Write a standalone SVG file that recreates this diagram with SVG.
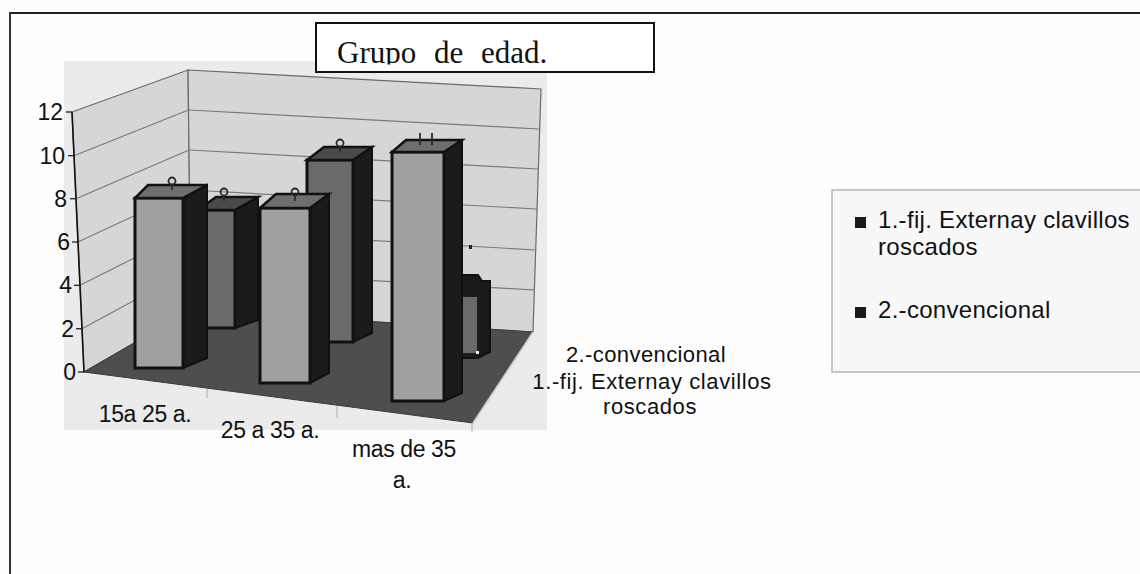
<svg xmlns="http://www.w3.org/2000/svg" width="1140" height="574" viewBox="0 0 1140 574">
<style>
.sans{font-family:"Liberation Sans",Arial,sans-serif;fill:#111;}
.ylab{font-size:23px;text-anchor:end;}
.cat{font-size:23px;text-anchor:middle;letter-spacing:-0.4px;}
.ser{font-size:22px;text-anchor:middle;}
.leg{font-size:24px;letter-spacing:0.3px;}
.grid{stroke:#7a7a7a;stroke-width:1.2;fill:none;}
.wall{fill:#d6d6d6;stroke:#6a6a6a;stroke-width:1.2;}
.f1{fill:#a0a0a0;stroke:#111;stroke-width:3;}
.f2{fill:#6a6a6a;stroke:#111;stroke-width:3;}
.side{fill:#1b1b1b;stroke:#111;stroke-width:2;}
.t1{fill:#6e6e6e;stroke:#111;stroke-width:2.5;}
.t2{fill:#4a4a4a;stroke:#111;stroke-width:2.5;}
.loop{fill:none;stroke:#2a2a2a;stroke-width:1.8;}
.tick{stroke:#222;stroke-width:1.3;}
.ctick{stroke:#b8b8b8;stroke-width:1.2;}
</style>
<defs>
<clipPath id="titleclip"><rect x="316" y="23" width="338" height="41.5"/></clipPath>
</defs>
<rect x="0" y="0" width="1140" height="574" fill="#fdfdfd"/>

<g id="frame">
<line x1="9" y1="13" x2="1140" y2="13" stroke="#222" stroke-width="2"/>
<line x1="10" y1="12" x2="10" y2="574" stroke="#333" stroke-width="2"/>
</g>

<g id="chart">
<rect id="backdrop" x="64" y="61" width="483" height="369" fill="#ebebeb"/>
<!-- walls -->
<polygon class="wall" points="72,112 188,70 191,310 84,372"/>
<polygon class="wall" points="188,70 541,89 533,332 191,310"/>
<!-- left wall grid -->
<g class="grid">
<line x1="74" y1="155.7" x2="188.5" y2="110"/>
<line x1="76" y1="198.7" x2="189" y2="150"/>
<line x1="78" y1="242" x2="189.5" y2="190"/>
<line x1="80" y1="285.3" x2="190" y2="230"/>
<line x1="82" y1="328.7" x2="190.5" y2="270"/>
</g>
<!-- back wall grid -->
<g class="grid">
<line x1="188.5" y1="110" x2="539.7" y2="129"/>
<line x1="189" y1="150" x2="538.3" y2="169"/>
<line x1="189.5" y1="190" x2="537" y2="209"/>
<line x1="190" y1="230" x2="535.7" y2="250"/>
<line x1="190.5" y1="270" x2="534.3" y2="290"/>
</g>
<!-- floor -->
<polygon points="84,372 191,310 533,332 473,423" fill="#4e4e4e" stroke="#3a3a3a" stroke-width="1"/>
<line x1="473" y1="423" x2="533" y2="332" stroke="#cfcfcf" stroke-width="1.5"/>
<!-- category ticks -->
<line class="ctick" x1="207" y1="389" x2="207" y2="398"/>
<line class="ctick" x1="337" y1="406" x2="337" y2="418"/>
<line class="ctick" x1="472" y1="423" x2="472" y2="432"/>
<rect x="469" y="245" width="3" height="4" fill="#222"/>

<!-- back row bars (2.-convencional) -->
<g id="bar2">
<polygon class="side" points="235,210 258,197 258,320 235,328"/>
<polygon class="f2" points="198,210 235,210 235,328 198,328"/>
<polygon class="t2" points="198,210 235,210 258,197 216,197"/>
</g>
<g id="bar4">
<polygon class="side" points="353,160 372,147 372,333 353,342"/>
<polygon class="f2" points="307,160 353,160 353,342 307,342"/>
<polygon class="t2" points="307,160 353,160 372,147 324,147"/>
</g>
<g id="bar6">
<polygon class="side" points="455,275 478,275 482,281 490,281 490,352 478,358 455,358"/>
<rect x="460" y="297" width="17" height="56" fill="#6a6a6a"/>
<rect x="476" y="351" width="3" height="3" fill="#eee"/>
</g>

<!-- front row bars (1.-fij.) -->
<g id="bar1">
<polygon class="side" points="183,198 207,185 207,358 183,368"/>
<polygon class="f1" points="135,198 183,198 183,368 135,368"/>
<polygon class="t1" points="135,198 183,198 207,185 148,185"/>
</g>
<g id="bar3">
<polygon class="side" points="310,208 329,194 329,373 310,383"/>
<polygon class="f1" points="260,208 310,208 310,383 260,383"/>
<polygon class="t1" points="260,208 310,208 329,194 276,194"/>
</g>
<g id="bar5">
<polygon class="side" points="444,152 462,140 462,393 444,401"/>
<polygon class="f1" points="392,152 444,152 444,401 392,401"/>
<polygon class="t1" points="392,152 444,152 462,140 406,140"/>
</g>

<!-- small marks on bar tops -->
<g id="marks">
<ellipse class="loop" cx="172" cy="181" rx="3.5" ry="3.5"/><line class="loop" x1="172" y1="184" x2="172" y2="190"/>
<ellipse class="loop" cx="224" cy="192" rx="3.5" ry="3.5"/><line class="loop" x1="224" y1="195" x2="224" y2="201"/>
<ellipse class="loop" cx="295" cy="192" rx="3.5" ry="3.5"/><line class="loop" x1="295" y1="195" x2="295" y2="201"/>
<ellipse class="loop" cx="340" cy="143" rx="3.5" ry="3.5"/><line class="loop" x1="340" y1="146" x2="340" y2="152"/>
<line class="loop" x1="420" y1="133" x2="420" y2="145"/>
<line class="loop" x1="432" y1="133" x2="432" y2="145"/>
</g>

<!-- value axis -->
<g id="value-axis">
<line x1="72" y1="112" x2="84" y2="372" stroke="#111" stroke-width="1.6"/>
<line class="tick" x1="66" y1="112" x2="72" y2="112"/>
<line class="tick" x1="68" y1="155.7" x2="74" y2="155.7"/>
<line class="tick" x1="70" y1="198.7" x2="76" y2="198.7"/>
<line class="tick" x1="72" y1="242" x2="78" y2="242"/>
<line class="tick" x1="74" y1="285.3" x2="80" y2="285.3"/>
<line class="tick" x1="76" y1="328.7" x2="82" y2="328.7"/>
<line class="tick" x1="78" y1="372" x2="84" y2="372"/>
<text class="sans ylab" x="63" y="120">12</text>
<text class="sans ylab" x="65" y="164">10</text>
<text class="sans ylab" x="67" y="207">8</text>
<text class="sans ylab" x="70" y="250">6</text>
<text class="sans ylab" x="72" y="293">4</text>
<text class="sans ylab" x="74" y="337">2</text>
<text class="sans ylab" x="76" y="380">0</text>
</g>

<!-- category labels -->
<g id="category-axis">
<text class="sans cat" x="145" y="422">15a 25 a.</text>
<text class="sans cat" x="270" y="438">25 a 35 a.</text>
<text class="sans cat" x="404" y="457">mas de 35</text>
<text class="sans cat" x="402" y="488">a.</text>
</g>

<!-- series labels -->
<g id="series-axis">
<text class="sans ser" x="646" y="362" letter-spacing="0.4">2.-convencional</text>
<text class="sans ser" x="652" y="389" letter-spacing="0.6">1.-fij. Externay clavillos</text>
<text class="sans ser" x="650" y="414" letter-spacing="0.6">roscados</text>
</g>
</g>

<g id="title">
<rect x="316" y="23" width="338" height="49" fill="#fff" stroke="#111" stroke-width="2"/>
<text clip-path="url(#titleclip)" x="337" y="63" font-family="'Liberation Serif','Times New Roman',serif" font-size="31" word-spacing="10" fill="#111">Grupo de edad.</text>
</g>

<g id="legend">
<rect x="832" y="190" width="320" height="182" fill="#f8f8f8" stroke="#b5b5b5" stroke-width="1.5"/>
<rect x="855" y="217" width="11" height="11" fill="#1a1a1a"/>
<text class="sans leg" x="878" y="228">1.-fij. Externay clavillos</text>
<text class="sans leg" x="878" y="255">roscados</text>
<rect x="855" y="307" width="11" height="11" fill="#1a1a1a"/>
<text class="sans leg" x="878" y="318">2.-convencional</text>
</g>
</svg>
